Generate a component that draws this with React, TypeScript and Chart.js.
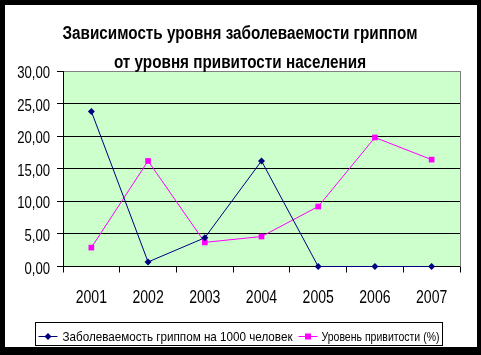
import React, { useEffect, useRef } from 'react';
import { Chart, registerables } from 'chart.js';

Chart.register(...registerables);

const years = ['2001', '2002', '2003', '2004', '2005', '2006', '2007'];
const morbidity = [23.8, 0.7, 4.4, 16.2, 0, 0, 0];
const vaccination = [2.9, 16.2, 3.7, 4.6, 9.2, 19.8, 16.4];
const yMin = 0;
const yMax = 30;
const yStep = 5;
const titleLines = ['Зависимость уровня заболеваемости гриппом', 'от уровня привитости населения'];
const seriesNames = ['Заболеваемость гриппом на 1000 человек', 'Уровень привитости (%)'];
const seriesColors = ['#000080', '#ff00ff'];
const seriesMarkers = ['rectRot', 'rect'];

const FAMILY = '"Liberation Sans", Arial, sans-serif';

const W = 481;
const H = 355;

function drawScaled(
  ctx: CanvasRenderingContext2D,
  text: string,
  x: number,
  y: number,
  align: 'left' | 'right' | 'center',
  font: string,
  sx: number,
  color: string
) {
  ctx.save();
  ctx.font = font;
  ctx.fillStyle = color;
  ctx.textAlign = 'left';
  ctx.textBaseline = 'alphabetic';
  const w = ctx.measureText(text).width * sx;
  const left = align === 'left' ? x : align === 'right' ? x - w : x - w / 2;
  ctx.translate(left, y);
  ctx.scale(sx, 1);
  ctx.fillText(text, 0, 0);
  ctx.restore();
  return w;
}

function measure(ctx: CanvasRenderingContext2D, text: string, font: string) {
  ctx.save();
  ctx.font = font;
  const w = ctx.measureText(text).width;
  ctx.restore();
  return w;
}

const fmt = (v: number) => v.toFixed(2).replace('.', ',');

const framePlugin = {
  id: 'frame',
  beforeDraw(chart: any) {
    const { ctx, chartArea } = chart;
    ctx.save();
    ctx.fillStyle = '#000000';
    ctx.fillRect(0, 0, W, H);
    ctx.fillStyle = '#ffffff';
    ctx.fillRect(5, 5, 472, 342);
    ctx.fillStyle = '#ccffcc';
    ctx.fillRect(chartArea.left, chartArea.top, chartArea.right - chartArea.left, chartArea.bottom - chartArea.top);
    ctx.restore();
  },
  beforeDatasetsDraw(chart: any) {
    const { ctx, chartArea } = chart;
    ctx.save();
    ctx.strokeStyle = '#808080';
    ctx.lineWidth = 1;
    ctx.beginPath();
    ctx.moveTo(chartArea.right + 0.5, chartArea.top);
    ctx.lineTo(chartArea.right + 0.5, chartArea.bottom);
    ctx.stroke();
    ctx.restore();
  },
  afterDraw(chart: any) {
    const { ctx } = chart;
    const xs = chart.scales.x;
    const ys = chart.scales.y;

    // Title
    const titleFont = `bold 17.5px ${FAMILY}`;
    const tsx = 355 / measure(ctx, titleLines[0], titleFont);
    drawScaled(ctx, titleLines[0], 240, 39, 'center', titleFont, tsx, '#000000');
    drawScaled(ctx, titleLines[1], 240, 67.5, 'center', titleFont, tsx, '#000000');

    // Y tick labels
    ys.ticks.forEach((t: any) => {
      const py = ys.getPixelForValue(t.value);
      drawScaled(ctx, fmt(t.value), 50, py + 7, 'right', `16px ${FAMILY}`, 0.82, '#000000');
    });

    // X tick labels
    years.forEach((lab, i) => {
      const px = xs.getPixelForValue(i);
      drawScaled(ctx, lab, px, 303, 'center', `19px ${FAMILY}`, 0.74, '#000000');
    });

    // Legend
    const legFont = `13px ${FAMILY}`;
    const targets = [230, 118];
    const scales = seriesNames.map((n, i) => targets[i] / measure(ctx, n, legFont));
    const symW = 19;
    const gapSymText = [5, 4];
    const gapItems = 6;
    const padL = 3;
    const padR = 3;
    const boxLeft = 35.5;
    const boxTop = 322.5;
    const boxH = 23;
    let total = padL + padR;
    targets.forEach((w, i) => {
      total += symW + gapSymText[i] + w + (i < targets.length - 1 ? gapItems : 0);
    });
    ctx.save();
    ctx.strokeStyle = '#000000';
    ctx.lineWidth = 1;
    ctx.strokeRect(boxLeft, boxTop, Math.round(total), boxH);
    let x = boxLeft + padL;
    const cy = 336.5;
    seriesNames.forEach((name, i) => {
      ctx.strokeStyle = seriesColors[i];
      ctx.fillStyle = seriesColors[i];
      ctx.lineWidth = 1;
      ctx.beginPath();
      ctx.moveTo(x, cy);
      ctx.lineTo(x + symW, cy);
      ctx.stroke();
      const mx = x + symW / 2;
      ctx.beginPath();
      if (seriesMarkers[i] === 'rectRot') {
        ctx.moveTo(mx, cy - 3.5);
        ctx.lineTo(mx + 3.5, cy);
        ctx.lineTo(mx, cy + 3.5);
        ctx.lineTo(mx - 3.5, cy);
        ctx.closePath();
      } else {
        ctx.rect(mx - 3, cy - 3, 6, 6);
      }
      ctx.fill();
      x += symW + gapSymText[i];
      drawScaled(ctx, name, x, 341, 'left', legFont, scales[i], '#000000');
      x += targets[i] + gapItems;
    });
    ctx.restore();
  },
};

export default function App() {
  const ref = useRef<HTMLCanvasElement | null>(null);

  useEffect(() => {
    const canvas = ref.current;
    if (!canvas) return;
    const chart = new Chart(canvas, {
      type: 'line',
      data: {
        labels: years,
        datasets: [
          {
            label: seriesNames[0],
            data: morbidity,
            borderColor: seriesColors[0],
            backgroundColor: seriesColors[0],
            borderWidth: 1,
            pointStyle: 'rectRot',
            pointRadius: 3.5,
            pointBorderWidth: 0,
            tension: 0,
            clip: false,
          },
          {
            label: seriesNames[1],
            data: vaccination,
            borderColor: seriesColors[1],
            backgroundColor: seriesColors[1],
            borderWidth: 1,
            pointStyle: 'rect',
            pointRadius: 4,
            pointBorderWidth: 0,
            tension: 0,
            clip: false,
          },
        ],
      },
      options: {
        responsive: false,
        animation: false,
        devicePixelRatio: 1,
        layout: { padding: { top: 71, left: 0, right: 21, bottom: 50 } },
        plugins: {
          legend: { display: false },
          tooltip: { enabled: false },
          title: { display: false },
        },
        scales: {
          x: {
            offset: true,
            grid: {
              offset: true,
              drawOnChartArea: false,
              drawTicks: true,
              tickLength: 6,
              color: '#000000',
            },
            border: { color: '#000000', width: 1 },
            ticks: { display: false, autoSkip: false, maxRotation: 0 },
            afterFit: (scale: any) => {
              scale.height = 38.5;
            },
          },
          y: {
            min: yMin,
            max: yMax,
            grid: {
              color: (c: any) => (c.tick && c.tick.value === yMax ? '#808080' : '#000000'),
              tickColor: '#000000',
              tickLength: 6,
              drawTicks: true,
            },
            border: { color: '#000000', width: 1 },
            ticks: { display: false, stepSize: yStep },
            afterFit: (scale: any) => {
              scale.width = 63;
            },
          },
        },
      },
      plugins: [framePlugin],
    } as any);
    return () => chart.destroy();
  }, []);

  return (
    <div style={{ position: 'absolute', left: 0, top: 0, width: W, height: H }}>
      <canvas ref={ref} width={W} height={H} style={{ display: 'block', width: W, height: H }} />
    </div>
  );
}
